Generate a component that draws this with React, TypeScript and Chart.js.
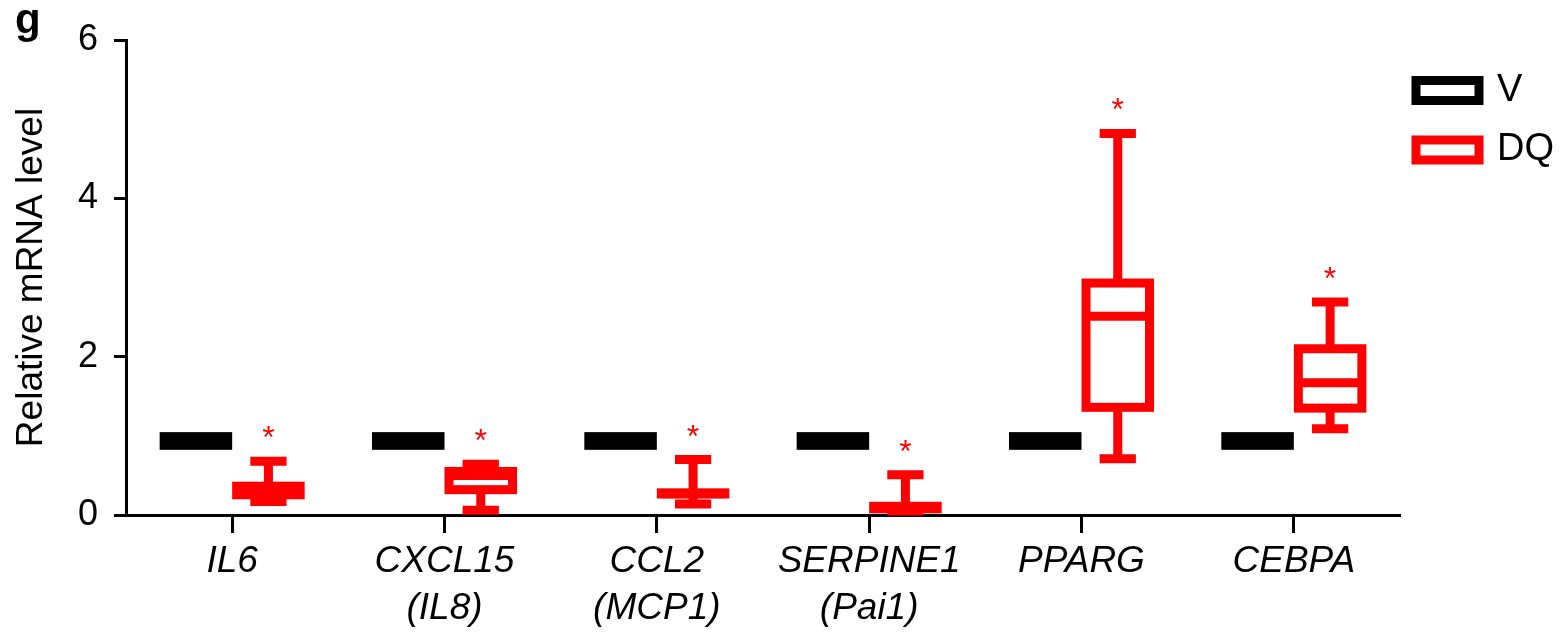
import React, { useEffect, useRef } from "react";
import { Chart, registerables } from "chart.js";

Chart.register(...registerables);

// ---------- data ----------
const geneLabels = ["IL6", "CXCL15", "CCL2", "SERPINE1", "PPARG", "CEBPA"];
const aliasLabels = ["", "(IL8)", "(MCP1)", "(Pai1)", "", ""];
const seriesNames = ["V", "DQ"];
const seriesColors = ["#000000", "#ff0000"];

// V (vehicle) box statistics
const vMin = [0.88, 0.88, 0.88, 0.88, 0.88, 0.88];
const vQ1 = [0.88, 0.88, 0.88, 0.88, 0.88, 0.88];
const vMedian = [0.93, 0.93, 0.93, 0.93, 0.93, 0.93];
const vQ3 = [0.99, 0.99, 0.99, 0.99, 0.99, 0.99];
const vMax = [0.99, 0.99, 0.99, 0.99, 0.99, 0.99];

// DQ box statistics
const dqMin = [0.17, 0.06, 0.14, 0.05, 0.71, 1.09];
const dqQ1 = [0.255, 0.32, 0.265, 0.078, 1.36, 1.35];
const dqMedian = [0.316, 0.5, 0.27, 0.095, 2.51, 1.67];
const dqQ3 = [0.364, 0.55, 0.28, 0.11, 2.93, 2.1];
const dqMax = [0.68, 0.64, 0.7, 0.51, 4.82, 2.69];

const dqSignificance = ["*", "*", "*", "*", "*", "*"];

const yTicks = [0, 2, 4, 6];
const yTitle = "Relative mRNA level";
const panelLabel = "g";

const FONT = "'Liberation Sans', Arial, sans-serif";

const seriesStats = [
  { min: vMin, q1: vQ1, median: vMedian, q3: vQ3, max: vMax },
  { min: dqMin, q1: dqQ1, median: dqMedian, q3: dqQ3, max: dqMax },
];
const seriesMarks = [null, dqSignificance];

const categories = geneLabels.map((g, i) => (aliasLabels[i] ? [g, aliasLabels[i]] : g));

const boxPlotPlugin = {
  id: "boxplotDraw",
  afterDatasetsDraw(chart: any) {
    const ctx = chart.ctx as CanvasRenderingContext2D;
    const ys = chart.scales.y;
    const LW = 9;
    chart.data.datasets.forEach((_ds: any, di: number) => {
      const meta = chart.getDatasetMeta(di);
      const st = seriesStats[di];
      const color = seriesColors[di];
      meta.data.forEach((el: any, i: number) => {
        const cx = el.x;
        const w = el.width;
        const half = w / 2 - LW / 2;
        const capHalf = w / 4;
        const pMin = ys.getPixelForValue(st.min[i]);
        const pQ1 = ys.getPixelForValue(st.q1[i]);
        const pMed = ys.getPixelForValue(st.median[i]);
        const pQ3 = ys.getPixelForValue(st.q3[i]);
        const pMax = ys.getPixelForValue(st.max[i]);
        ctx.save();
        ctx.strokeStyle = color;
        ctx.lineWidth = LW;
        ctx.lineCap = "butt";
        ctx.lineJoin = "miter";
        // whiskers
        ctx.beginPath();
        if (pMax < pQ3) {
          ctx.moveTo(cx, pMax);
          ctx.lineTo(cx, pQ3);
          ctx.moveTo(cx - capHalf, pMax);
          ctx.lineTo(cx + capHalf, pMax);
        }
        if (pMin > pQ1) {
          ctx.moveTo(cx, pQ1);
          ctx.lineTo(cx, pMin);
          ctx.moveTo(cx - capHalf, pMin);
          ctx.lineTo(cx + capHalf, pMin);
        }
        ctx.stroke();
        // box
        ctx.fillStyle = "#ffffff";
        ctx.fillRect(cx - half, pQ3, 2 * half, pQ1 - pQ3);
        ctx.strokeRect(cx - half, pQ3, 2 * half, pQ1 - pQ3);
        // median
        ctx.beginPath();
        ctx.moveTo(cx - half, pMed);
        ctx.lineTo(cx + half, pMed);
        ctx.stroke();
        // significance mark
        const marks = seriesMarks[di];
        if (marks && marks[i]) {
          ctx.fillStyle = color;
          ctx.font = `32px ${FONT}`;
          ctx.textAlign = "center";
          ctx.textBaseline = "alphabetic";
          ctx.fillText(marks[i], cx, pMax - 31 + 18);
        }
        ctx.restore();
      });
    });
  },
  afterDraw(chart: any) {
    const ctx = chart.ctx as CanvasRenderingContext2D;
    ctx.save();
    // panel label
    ctx.fillStyle = "#000";
    ctx.font = `bold 42px ${FONT}`;
    ctx.textAlign = "left";
    ctx.textBaseline = "alphabetic";
    ctx.fillText(panelLabel, 15, 33);
    // legend
    seriesNames.forEach((name, k) => {
      const cy = 90.5 + k * 59.5;
      const cx = 1447.5;
      ctx.lineWidth = 9;
      ctx.strokeStyle = seriesColors[k];
      ctx.fillStyle = "#fff";
      ctx.fillRect(cx - 31.5, cy - 10, 63, 20);
      ctx.strokeRect(cx - 31.5, cy - 10, 63, 20);
      ctx.fillStyle = "#000";
      ctx.font = `38px ${FONT}`;
      ctx.textAlign = "left";
      ctx.textBaseline = "middle";
      ctx.fillText(name, 1497, cy);
    });
    ctx.restore();
  },
};

export default function App() {
  const ref = useRef<HTMLCanvasElement | null>(null);
  useEffect(() => {
    if (!ref.current) return;
    const chart = new Chart(ref.current, {
      type: "bar",
      data: {
        labels: categories as any,
        datasets: seriesNames.map((name, k) => ({
          label: name,
          data: geneLabels.map((_, i) => [seriesStats[k].q1[i], seriesStats[k].q3[i]]) as any,
          backgroundColor: "rgba(0,0,0,0)",
          borderWidth: 0,
          categoryPercentage: 0.683,
          barPercentage: 1,
        })),
      },
      options: {
        animation: false,
        responsive: false,
        events: [],
        layout: { padding: { top: 40, right: 160, bottom: 0, left: 0 } },
        plugins: {
          legend: { display: false },
          tooltip: { enabled: false },
        },
        scales: {
          x: {
            type: "category",
            ticks: {
              font: { family: FONT, size: 37, style: "italic", lineHeight: 1.25 },
              color: "#000",
              padding: 6,
              autoSkip: false,
              maxRotation: 0,
              minRotation: 0,
            },
            grid: {
              drawOnChartArea: false,
              offset: false,
              tickLength: 18,
              tickWidth: 3,
              tickColor: "#000",
            },
            border: { display: true, color: "#000", width: 3 },
            afterFit: (s: any) => {
              s.height = 117;
            },
          },
          y: {
            type: "linear",
            min: 0,
            max: 6,
            afterBuildTicks: (s: any) => {
              s.ticks = yTicks.map((v) => ({ value: v }));
            },
            ticks: {
              font: { family: FONT, size: 36 },
              color: "#000",
              padding: 16,
            },
            grid: {
              drawOnChartArea: false,
              tickLength: 12,
              tickWidth: 3,
              tickColor: "#000",
            },
            border: { display: true, color: "#000", width: 3 },
            title: {
              display: true,
              text: yTitle,
              color: "#000",
              font: { family: FONT, size: 37 },
              padding: { top: 10, bottom: 0 },
            },
            afterFit: (s: any) => {
              s.width = 126;
            },
          },
        },
      },
      plugins: [boxPlotPlugin],
    });
    return () => chart.destroy();
  }, []);
  return (
    <div style={{ position: "absolute", left: 0, top: 0, width: 1560, height: 632, background: "#fff" }}>
      <canvas ref={ref} width={1560} height={632} style={{ display: "block" }} />
    </div>
  );
}
